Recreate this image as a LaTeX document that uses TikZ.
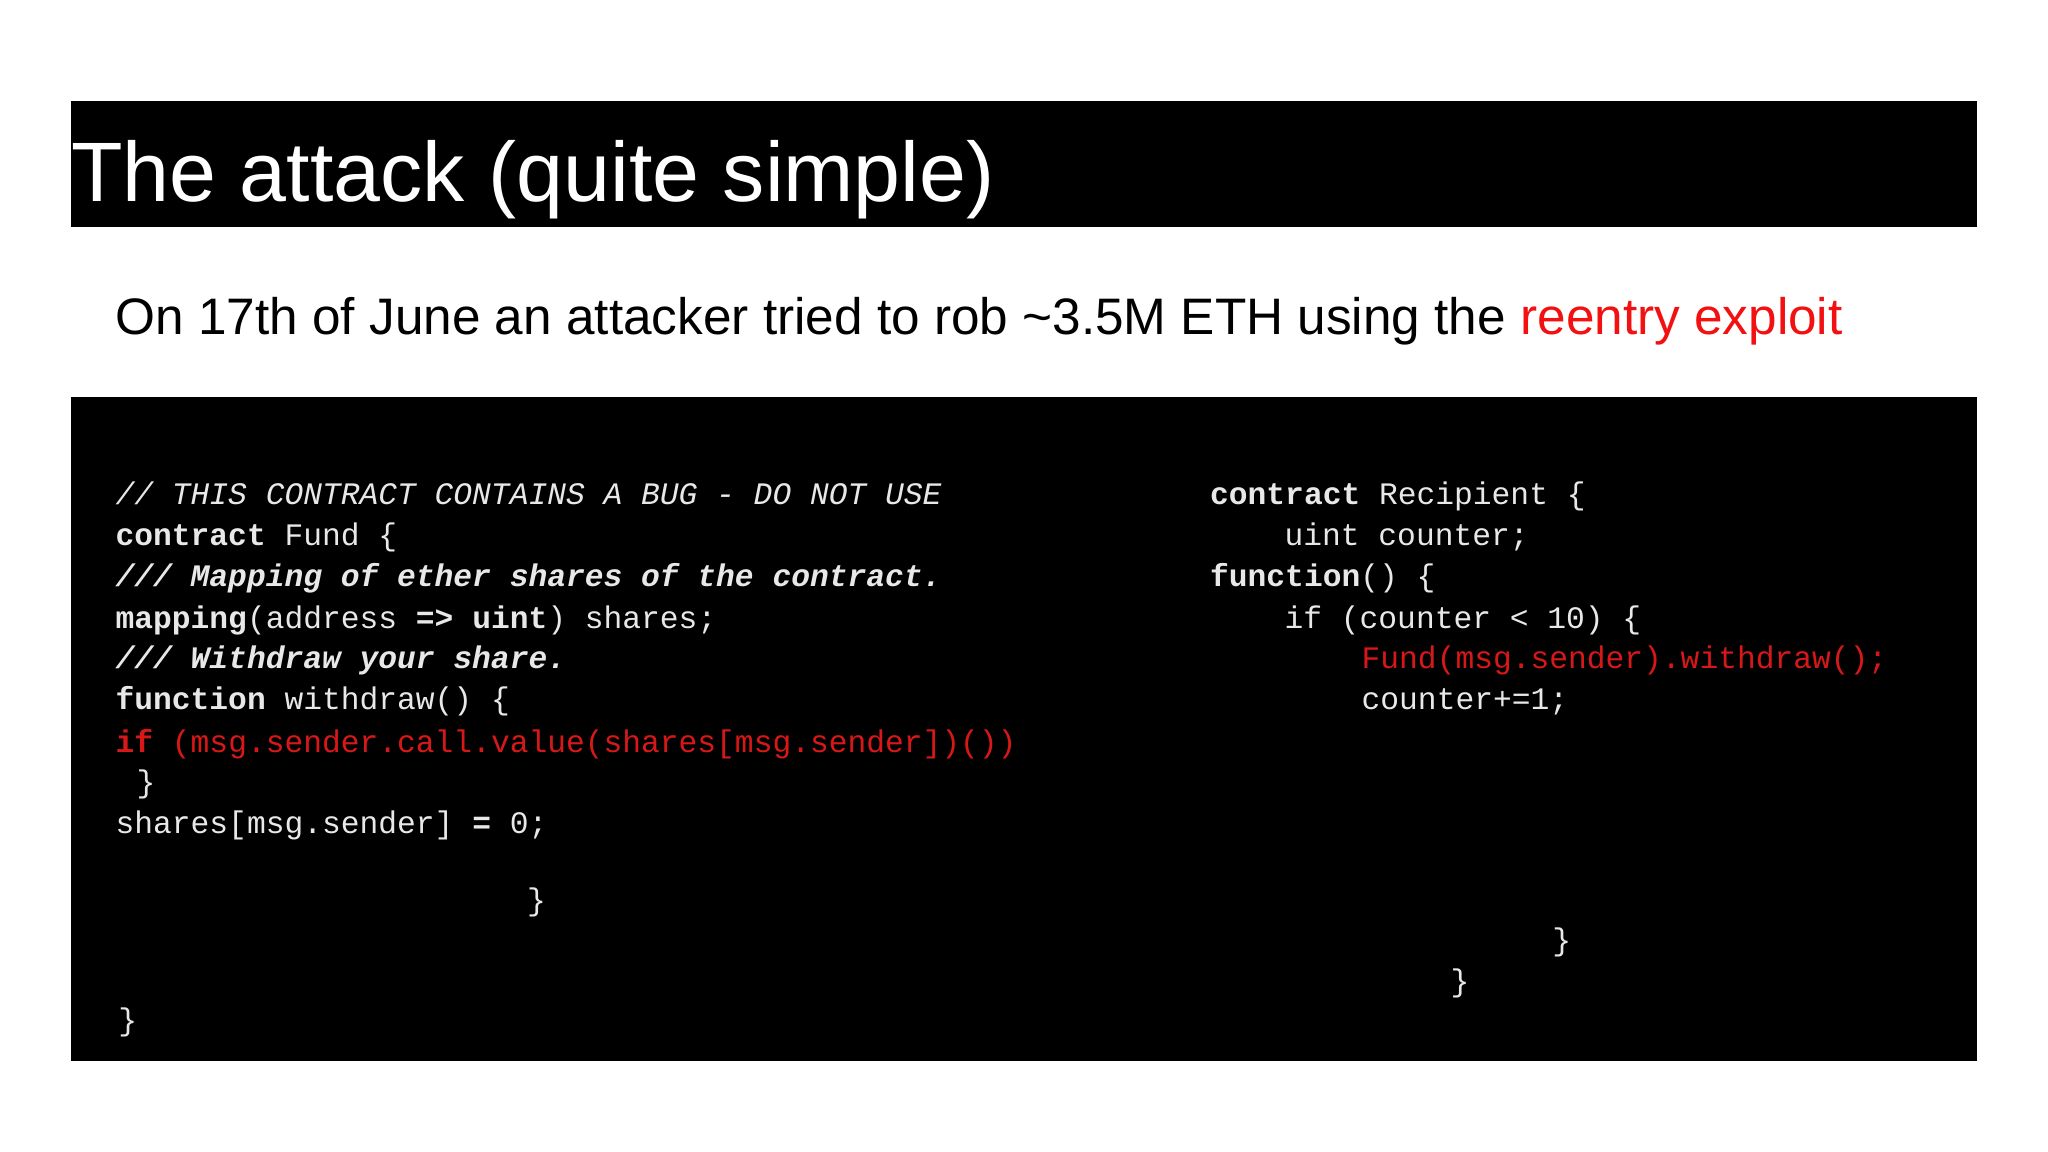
\documentclass[tikz,border=0pt]{standalone}
\usepackage{fontspec}
\setmainfont{Liberation Sans}
\setmonofont{Liberation Mono}
\definecolor{codefg}{HTML}{E8E8E8}
\definecolor{codered}{HTML}{D81818}
\definecolor{hired}{HTML}{F21010}
\begin{document}
\begin{tikzpicture}[x=0.013061cm,y=-0.013061cm,
  code/.style={anchor=base west,inner sep=0pt,text=codefg,font=\ttfamily\fontsize{8.9pt}{10pt}\selectfont},
  box/.style={fill=black,draw=none}]
\useasboundingbox[fill=white] (0,0) rectangle (1568,882);
\fill[box] (54,77) rectangle (1514,174);
\node[anchor=base west,inner sep=0pt,text=white,font=\fontsize{24pt}{28pt}\selectfont] (title) at (54,154) {The attack (quite simple)};
\node[anchor=base west,inner sep=0pt,font=\fontsize{14.6pt}{17pt}\selectfont] (sub) at (88,256) {On 17th of June an attacker tried to rob \textasciitilde3.5M ETH using the \textcolor{hired}{reentry exploit}};
\fill[box] (54,304) rectangle (1514,812);
% left code
\node[code] (l1) at (88,386) {\itshape // THIS CONTRACT CONTAINS A BUG - DO NOT USE};
\node[code] (l2) at (88,418) {\bfseries contract\mdseries{} Fund \{};
\node[code] (l3) at (88,449) {\bfseries\itshape /// Mapping of ether shares of the contract.};
\node[code] (l4) at (88,481) {\textbf{mapping}(address \textbf{=>} \textbf{uint}) shares;};
\node[code] (l5) at (88,512) {\bfseries\itshape /// Withdraw your share.};
\node[code] (l6) at (88,543) {\textbf{function} withdraw() \{};
\node[code,text=codered] (l7) at (88,576) {\textbf{if} (msg.sender.call.value(shares[msg.sender])())};
\node[code] (l8) at (104,607) {\}};
\node[code] (l9) at (88,638) {shares[msg.sender] \textbf{=} 0;};
\node[code] (l10) at (403,697) {\}};
\node[code] (l11) at (90,789) {\}};
% right code
\node[code] (r1) at (926,386) {\textbf{contract} Recipient \{};
\node[code] (r2) at (983,418) {uint counter;};
\node[code] (r3) at (926,449) {\textbf{function}() \{};
\node[code] (r4) at (983,481) {if (counter < 10) \{};
\node[code,text=codered] (r5) at (1042,512) {Fund(msg.sender).withdraw();};
\node[code] (r6) at (1042,543) {counter+=1;};
\node[code] (r7) at (1188,728) {\}};
\node[code] (r8) at (1110,759) {\}};
\end{tikzpicture}
\end{document}
